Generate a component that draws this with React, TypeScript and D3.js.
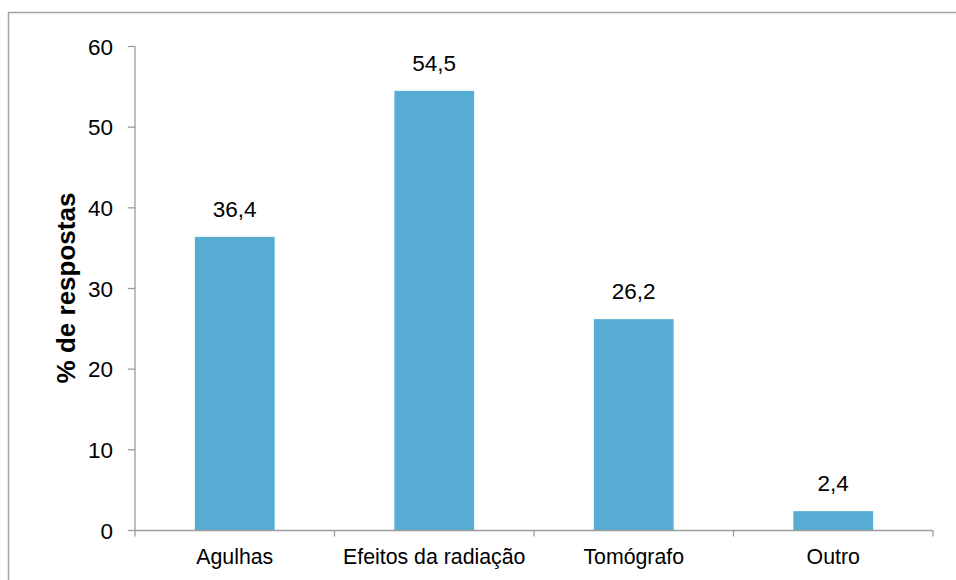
import React from "react";
import * as d3 from "d3";

const categories = ["Agulhas", "Efeitos da radiação", "Tomógrafo", "Outro"];
const values = [36.4, 54.5, 26.2, 2.4];
const valueLabels = ["36,4", "54,5", "26,2", "2,4"];
const yTicks = [0, 10, 20, 30, 40, 50, 60];
const yTitle = "% de respostas";

const W = 956;
const H = 580;
const FONT = "'Liberation Sans', Arial, Helvetica, sans-serif";
const AXIS = "#9c9c9c";
const BAR = "#57acd3";

export default function App() {
  const left = 135;
  const right = 933;
  const top = 46.5;
  const bottom = 530.5;

  const y = d3.scaleLinear().domain([0, 60]).range([bottom, top]);
  const x = d3.scaleBand<string>().domain(categories).range([left, right]).paddingInner(0.6).paddingOuter(0.3);
  const xb = d3.scaleBand<string>().domain(categories).range([left, right]).padding(0);

  const boundaries = [left, ...categories.map((c) => (xb(c) as number) + xb.bandwidth())];

  return (
    <svg
      width={W}
      height={H}
      style={{ position: "absolute", left: 0, top: 0, background: "#fff" }}
      fontFamily={FONT}
    >
      <rect x={0} y={0} width={W} height={H} fill="#fff" />
      <rect x={8.5} y={12.5} width={W + 20} height={H + 20} fill="none" stroke="#a3a3a3" strokeWidth={1.5} />

      {/* bars */}
      {categories.map((c, i) => (
        <rect
          key={c}
          x={x(c)}
          y={y(values[i])}
          width={x.bandwidth()}
          height={y(0) - y(values[i])}
          fill={BAR}
        />
      ))}

      {/* value labels */}
      {categories.map((c, i) => (
        <text
          key={c + "v"}
          x={(x(c) as number) + x.bandwidth() / 2}
          y={y(values[i]) - 20}
          textAnchor="middle"
          fontSize={22.5}
          fill="#000"
        >
          {valueLabels[i]}
        </text>
      ))}

      {/* y axis */}
      <line x1={left} x2={left} y1={top} y2={bottom} stroke={AXIS} strokeWidth={1.3} />
      {yTicks.map((t) => (
        <g key={t}>
          <line x1={left - 7} x2={left} y1={y(t)} y2={y(t)} stroke={AXIS} strokeWidth={1.3} />
          <text x={113} y={y(t)} dy="0.36em" textAnchor="end" fontSize={22.5} fill="#000">
            {t}
          </text>
        </g>
      ))}

      {/* x axis */}
      <line x1={left} x2={right} y1={bottom} y2={bottom} stroke={AXIS} strokeWidth={1.3} />
      {boundaries.map((b, i) => (
        <line key={i} x1={b} x2={b} y1={bottom} y2={bottom + 6} stroke={AXIS} strokeWidth={1.3} />
      ))}
      {categories.map((c) => (
        <text
          key={c + "l"}
          x={(xb(c) as number) + xb.bandwidth() / 2}
          y={564}
          textAnchor="middle"
          fontSize={21.3}
          fill="#000"
        >
          {c}
        </text>
      ))}

      {/* y title */}
      <text
        transform={`translate(75, 288) rotate(-90)`}
        textAnchor="middle"
        fontSize={26}
        fontWeight="bold"
        fill="#000"
      >
        {yTitle}
      </text>
    </svg>
  );
}
